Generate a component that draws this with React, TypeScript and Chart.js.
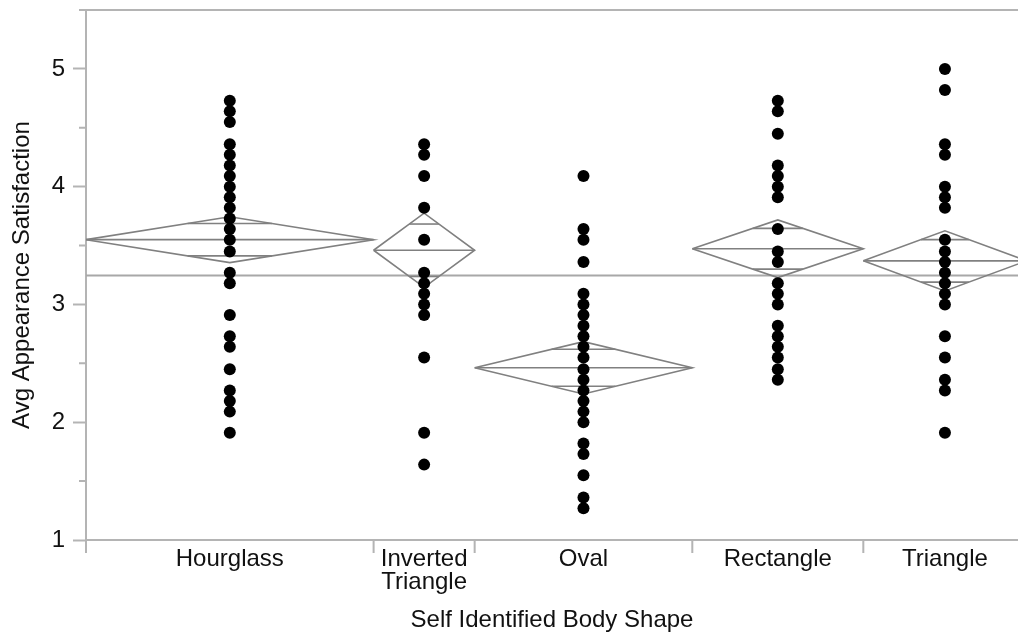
import React, { useEffect, useRef } from 'react';
import { Chart, registerables } from 'chart.js';

Chart.register(...registerables);

// ---------- data ----------
const categories = ['Hourglass', 'Inverted Triangle', 'Oval', 'Rectangle', 'Triangle'];
const tickLabels: (string | string[])[] = ['Hourglass', ['Inverted', 'Triangle'], 'Oval', 'Rectangle', 'Triangle'];
const groupCounts = [37, 13, 28, 22, 21];
const groupMeans = [3.55, 3.46, 2.462, 3.473, 3.37];
const ciHalfWidths = [0.195, 0.315, 0.222, 0.245, 0.255];
const grandMean = 3.245;

const hourglassValues = [4.73, 4.64, 4.55, 4.36, 4.27, 4.18, 4.09, 4.0, 3.91, 3.82, 3.73, 3.64, 3.55, 3.45, 3.27, 3.18, 2.91, 2.73, 2.64, 2.45, 2.27, 2.18, 2.09, 1.91];
const invertedTriangleValues = [4.36, 4.27, 4.09, 3.82, 3.55, 3.27, 3.18, 3.09, 3.0, 2.91, 2.55, 1.91, 1.64];
const ovalValues = [4.09, 3.64, 3.55, 3.36, 3.09, 3.0, 2.91, 2.82, 2.73, 2.64, 2.55, 2.45, 2.36, 2.27, 2.18, 2.09, 2.0, 1.82, 1.73, 1.55, 1.36, 1.27];
const rectangleValues = [4.73, 4.64, 4.45, 4.18, 4.09, 4.0, 3.91, 3.64, 3.45, 3.36, 3.18, 3.09, 3.0, 2.82, 2.73, 2.64, 2.55, 2.45, 2.36];
const triangleValues = [5.0, 4.82, 4.36, 4.27, 4.0, 3.91, 3.82, 3.55, 3.45, 3.36, 3.27, 3.18, 3.09, 3.0, 2.73, 2.55, 2.36, 2.27, 1.91];

const groupValues = [hourglassValues, invertedTriangleValues, ovalValues, rectangleValues, triangleValues];

const yMajorTicks = [1, 2, 3, 4, 5];
const yMinorTicks = [1.5, 2.5, 3.5, 4.5, 5.5];
const yMin = 1;
const yMax = 5.5;
const xVisibleMax = 119.9;

const xTitle = 'Self Identified Body Shape';
const yTitle = 'Avg Appearance Satisfaction';

// ---------- styles ----------
const AXIS_COLOR = '#b4b4b4';
const DIAMOND_COLOR = '#808080';
const GRAND_MEAN_COLOR = '#a8a8a8';
const TEXT_COLOR = '#111111';
const FONT = 'Liberation Sans, Arial, Helvetica, sans-serif';

// ---------- derived ----------
const starts: number[] = [];
groupCounts.reduce((acc, n) => { starts.push(acc); return acc + n; }, 0);
const total = groupCounts.reduce((a, b) => a + b, 0);
const boundaries = [...starts, total];
const centers = groupCounts.map((n, i) => starts[i] + n / 2);

function lineDs(points: { x: number; y: number }[], color: string, width: number) {
  return {
    type: 'scatter' as const,
    data: points,
    showLine: true,
    borderColor: color,
    borderWidth: width,
    pointRadius: 0,
    pointHoverRadius: 0,
    fill: false,
    tension: 0,
  };
}

function buildDatasets() {
  const dots = {
    type: 'scatter' as const,
    data: groupValues.flatMap((vals, i) => vals.map((v) => ({ x: centers[i], y: v }))),
    backgroundColor: '#000000',
    borderWidth: 0,
    pointRadius: 6,
    pointHoverRadius: 6,
  };
  const ds: any[] = [dots];
  const f = 1 - 1 / Math.SQRT2;
  groupCounts.forEach((n, i) => {
    const s = starts[i];
    const e = s + n;
    const c = centers[i];
    const m = groupMeans[i];
    const h = ciHalfWidths[i];
    const h2 = h / Math.SQRT2;
    const w = (n / 2) * f;
    ds.push(lineDs([{ x: s, y: m }, { x: c, y: m + h }, { x: e, y: m }, { x: c, y: m - h }, { x: s, y: m }], DIAMOND_COLOR, 1.6));
    ds.push(lineDs([{ x: s, y: m }, { x: e, y: m }], DIAMOND_COLOR, 1.6));
    ds.push(lineDs([{ x: c - w, y: m + h2 }, { x: c + w, y: m + h2 }], DIAMOND_COLOR, 1.6));
    ds.push(lineDs([{ x: c - w, y: m - h2 }, { x: c + w, y: m - h2 }], DIAMOND_COLOR, 1.6));
  });
  ds.push(lineDs([{ x: 0, y: grandMean }, { x: total, y: grandMean }], GRAND_MEAN_COLOR, 2));
  return ds;
}

const axisDecor = {
  id: 'axisDecor',
  afterDraw(chart: any) {
    const { ctx, chartArea, scales } = chart;
    const xs = scales.x;
    const ys = scales.y;
    ctx.save();
    ctx.strokeStyle = AXIS_COLOR;
    ctx.lineWidth = 2;
    ctx.beginPath();
    ctx.moveTo(chartArea.left, chartArea.top);
    ctx.lineTo(chartArea.right, chartArea.top);
    yMinorTicks.forEach((v) => {
      const py = ys.getPixelForValue(v);
      ctx.moveTo(chartArea.left - 7, py);
      ctx.lineTo(chartArea.left, py);
    });
    boundaries.forEach((b) => {
      const px = xs.getPixelForValue(b);
      if (px <= chartArea.right) {
        ctx.moveTo(px, chartArea.bottom);
        ctx.lineTo(px, chartArea.bottom + 13);
      }
    });
    ctx.stroke();
    ctx.restore();
  },
};

export default function App() {
  const ref = useRef<HTMLCanvasElement | null>(null);
  useEffect(() => {
    if (!ref.current) return;
    const chart = new Chart(ref.current, {
      type: 'scatter',
      data: { datasets: buildDatasets() },
      plugins: [axisDecor],
      options: {
        animation: false,
        responsive: false,
        devicePixelRatio: 1,
        layout: { autoPadding: false, padding: { top: 10, right: 0, bottom: 0, left: 0 } },
        plugins: { legend: { display: false }, tooltip: { enabled: false } },
        events: [],
        scales: {
          x: {
            type: 'linear',
            min: 0,
            max: xVisibleMax,
            afterBuildTicks: (scale: any) => {
              scale.ticks = centers.map((v) => ({ value: v }));
            },
            afterFit: (scale: any) => {
              scale.height = 97;
              scale.paddingLeft = 0;
              scale.paddingRight = 0;
            },
            ticks: {
              autoSkip: false,
              maxRotation: 0,
              minRotation: 0,
              padding: 8,
              color: TEXT_COLOR,
              font: { family: FONT, size: 24, lineHeight: 0.95 },
              callback: (_v: any, i: number) => tickLabels[i],
            },
            grid: { drawOnChartArea: false, drawTicks: false, color: AXIS_COLOR },
            border: { display: true, color: AXIS_COLOR, width: 2 },
            title: {
              display: true,
              text: xTitle,
              color: TEXT_COLOR,
              font: { family: FONT, size: 24, lineHeight: 1.2 },
              padding: { top: 12, bottom: 2 },
            },
          },
          y: {
            type: 'linear',
            min: yMin,
            max: yMax,
            afterBuildTicks: (scale: any) => {
              scale.ticks = yMajorTicks.map((v) => ({ value: v }));
            },
            afterFit: (scale: any) => {
              scale.width = 86;
              scale.paddingTop = 0;
              scale.paddingBottom = 0;
            },
            ticks: {
              padding: 8,
              color: TEXT_COLOR,
              font: { family: FONT, size: 24 },
              callback: (v: any) => String(v),
            },
            grid: { drawOnChartArea: false, drawTicks: true, tickLength: 13, tickWidth: 2, tickColor: AXIS_COLOR, color: AXIS_COLOR },
            border: { display: true, color: AXIS_COLOR, width: 2 },
            title: {
              display: true,
              text: yTitle,
              color: TEXT_COLOR,
              font: { family: FONT, size: 24, lineHeight: 1.2 },
              padding: { top: 8, bottom: 0 },
            },
          },
        },
      } as any,
    });
    return () => chart.destroy();
  }, []);
  return (
    <div style={{ position: 'absolute', left: 0, top: 0, width: 1018, height: 637, background: '#fff' }}>
      <canvas ref={ref} width={1018} height={637} style={{ display: 'block' }} />
    </div>
  );
}
